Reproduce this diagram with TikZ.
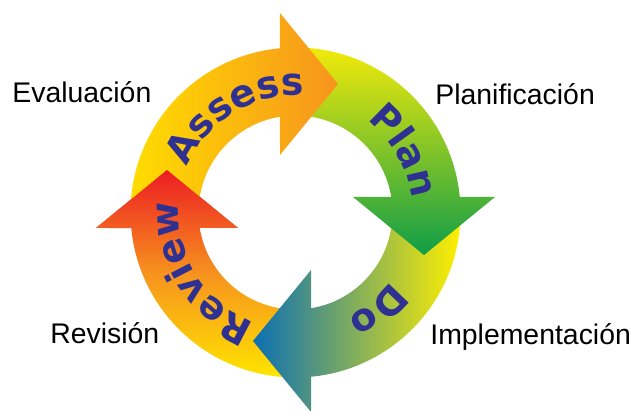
\documentclass[tikz,border=0pt]{standalone}
\usepackage{fontspec}
\setmainfont{Liberation Sans}
\newfontfamily\wordfont{DejaVu Sans}
\usetikzlibrary{decorations.text}
\definecolor{assessY}{HTML}{FFDD00}
\definecolor{assessO}{HTML}{F7941D}
\definecolor{planY}{HTML}{F2EA0A}
\definecolor{planG}{HTML}{0F9D48}
\definecolor{doY}{HTML}{FFF000}
\definecolor{doB}{HTML}{0B6FB4}
\definecolor{revY}{HTML}{FFE500}
\definecolor{revO}{HTML}{F7931E}
\definecolor{revR}{HTML}{EC1C24}
\definecolor{wordblue}{HTML}{2E3192}
\def\reviewpath{(270:165) arc[start angle=270, end angle=185.4, radius=165]
  -- (-199.5,-15.5) -- (-128.5,42.5) -- (-57.5,-15.5)
  -- (189.2:97) arc[start angle=189.2, end angle=270, radius=97] -- cycle}
\begin{document}
\begin{tikzpicture}[x=0.5pt, y=0.5pt,
    phase/.style={font=\fontsize{14.2}{17}\selectfont, inner sep=0pt, anchor=base west},
    review/.style={bottom color=revY, top color=revR, middle color=revO},
    word/.style={decorate, decoration={text along path, text align=center,
        text color=wordblue, text={|\wordfont\bfseries\fontsize{19}{19}\selectfont|#1}}}]
    \useasboundingbox (0,0) rectangle (638,411);
    \begin{scope}[shift={(295.5,198.5)}]
        \shade[review] \reviewpath;
        \shade[left color=doB, right color=doY]
            (0:165) arc[start angle=0, end angle=-84.6, radius=165]
            -- (15.5,-199.5) -- (-42.5,-128.5) -- (15.5,-57.5)
            -- (-80.8:97) arc[start angle=-80.8, end angle=0, radius=97] -- cycle;
        \shade[top color=planY, bottom color=planG]
            (90:165) arc[start angle=90, end angle=5.4, radius=165]
            -- (199.5,15.5) -- (128.5,-42.5) -- (57.5,15.5)
            -- (9.2:97) arc[start angle=9.2, end angle=90, radius=97] -- cycle;
        \shade[left color=assessY, right color=assessO]
            (180:165) arc[start angle=180, end angle=95.4, radius=165]
            -- (-15.5,199.5) -- (42.5,128.5) -- (-15.5,57.5)
            -- (99.2:97) arc[start angle=99.2, end angle=180, radius=97] -- cycle;
        \begin{scope}
            \clip (-199.5,-15.5) -- (-128.5,42.5) -- (-57.5,-15.5) -- cycle;
            \shade[review] \reviewpath;
        \end{scope}
        \path[word=Assess] (181.6:117) arc[start angle=181.6, end angle=61.6, radius=117];
        \path[word=Plan] (89.5:117) arc[start angle=89.5, end angle=-30.5, radius=117];
        \path[word=Do] (10:117) arc[start angle=10, end angle=-110, radius=117];
        \path[word=Review] (272:117) arc[start angle=272, end angle=152, radius=117];
    \end{scope}
    \node[phase] (evaluacion) at (12,308) {Evaluación};
    \node[phase] (planificacion) at (435,306) {Planificación};
    \node[phase] (revision) at (50,67) {Revisión};
    \node[phase] (implementacion) at (430,66) {Implementación};
\end{tikzpicture}
\end{document}
